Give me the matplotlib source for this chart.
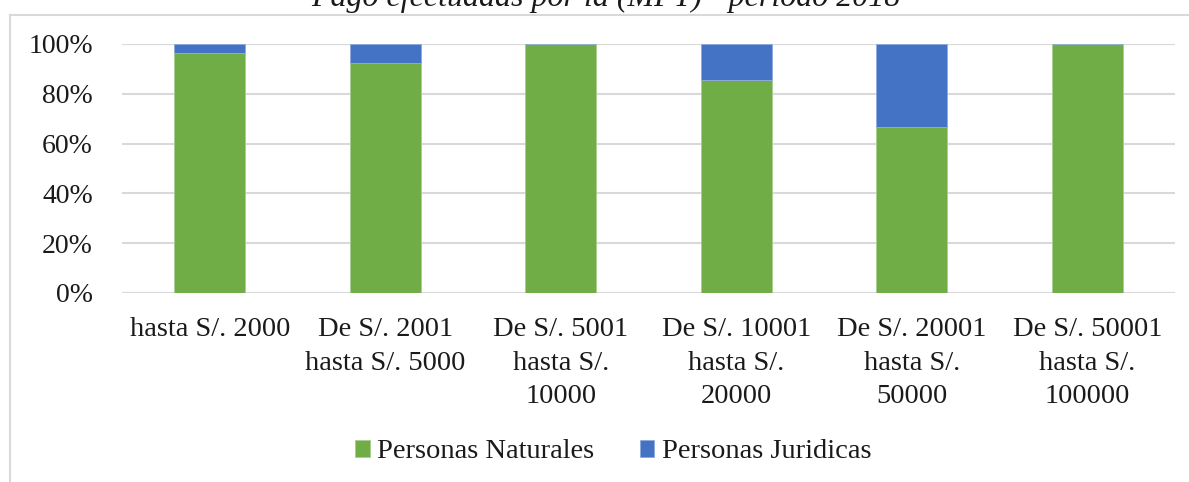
import numpy as np
import matplotlib
matplotlib.use('Agg')
import matplotlib.pyplot as plt
from matplotlib.lines import Line2D

# ===== DATA =====
categories = [
    "hasta S/. 2000",
    "De S/. 2001\nhasta S/. 5000",
    "De S/. 5001\nhasta S/.\n10000",
    "De S/. 10001\nhasta S/.\n20000",
    "De S/. 20001\nhasta S/.\n50000",
    "De S/. 50001\nhasta S/.\n100000",
]
naturales = [96.3, 92.3, 100.0, 85.7, 66.7, 100.0]
juridicas = [3.7, 7.7, 0.0, 14.3, 33.3, 0.0]
series_names = ["Personas Naturales", "Personas Juridicas"]
title = "Pago efectuadas por la (MPT) - periodo 2018"
# ===== END DATA =====

GREEN = '#70AD47'
BLUE = '#4472C4'
GRID = '#D9D9D9'

plt.rcParams['font.family'] = ['Liberation Serif', 'DejaVu Serif']

fig = plt.figure(figsize=(11.89, 4.82), dpi=100)
ax = fig.add_axes([122 / 1189, 1 - 293 / 482, (1175 - 122) / 1189, (293 - 44) / 482])

x = np.arange(len(categories))
ax.bar(x, naturales, width=0.405, color=GREEN, edgecolor='#A9CF8F', linewidth=0.6,
       label=series_names[0], zorder=3)
ax.bar(x, juridicas, width=0.405, bottom=naturales, color=BLUE, edgecolor='#8FAADC',
       linewidth=0.6, label=series_names[1], zorder=3)

ax.set_xlim(-0.5, len(categories) - 0.5)
ax.set_ylim(0, 100)
ax.set_yticks(np.arange(0, 101, 20))
ax.set_yticklabels([f"{v}%" for v in range(0, 101, 20)])
ax.set_xticks(x)
ax.set_xticklabels(categories, linespacing=1.47)

ax.tick_params(axis='y', length=0, pad=21, labelsize=20, colors='#1a1a1a')
ax.tick_params(axis='x', length=0, pad=17, labelsize=20.5, colors='#1a1a1a')
for s in ax.spines.values():
    s.set_visible(False)
ax.yaxis.grid(True, color=GRID, linewidth=1.5, zorder=0)
ax.set_axisbelow(True)
ax.axhline(0, color=GRID, linewidth=1.5, zorder=1)
ax.axhline(100, color=GRID, linewidth=1.5, zorder=1)

# outer chart frame (only top and left visible in the crop)
fig.add_artist(Line2D([10 / 1189, 1.0], [1 - 15 / 482, 1 - 15 / 482],
                      color=GRID, linewidth=1.5, transform=fig.transFigure))
fig.add_artist(Line2D([10 / 1189, 10 / 1189], [0, 1 - 15 / 482],
                      color=GRID, linewidth=1.5, transform=fig.transFigure))

# title, mostly cut off at the top edge
fig.text(606 / 1189, 1 - 6 / 482, title, ha='center', va='baseline',
         fontsize=23, style='italic', color='#1a1a1a')

leg = fig.legend(loc='center', bbox_to_anchor=(613 / 1189, 1 - 452 / 482), ncol=2,
                 frameon=False, fontsize=20.5, handlelength=0.52, handleheight=0.52,
                 handletextpad=0.25, columnspacing=1.6)
for t in leg.get_texts():
    t.set_color('#1a1a1a')

plt.savefig('out.png', dpi=100)
